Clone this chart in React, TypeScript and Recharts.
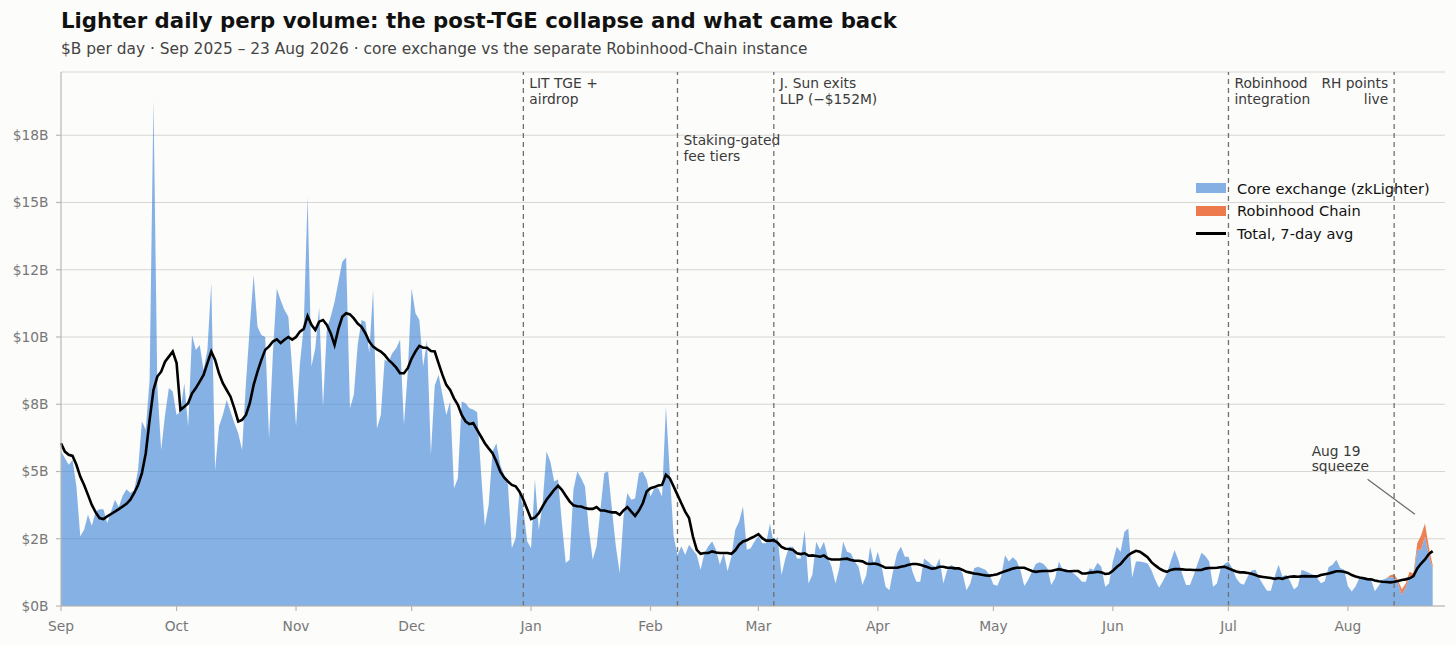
import React from 'react';
import {
  ComposedChart,
  Area,
  Line,
  XAxis,
  YAxis,
  CartesianGrid,
  ReferenceLine,
  ReferenceDot,
  Legend,
} from 'recharts';

// ---------- DATA ----------
const monthTickDays = [0, 30, 61, 91, 122, 153, 181, 212, 242, 273, 303, 334];
const monthTickLabels = ['Sep', 'Oct', 'Nov', 'Dec', 'Jan', 'Feb', 'Mar', 'Apr', 'May', 'Jun', 'Jul', 'Aug'];
const yTickValues = [0, 2.5, 5, 7.5, 10, 12.5, 15, 17.5];
const yTickLabels = ['$0B', '$2B', '$5B', '$8B', '$10B', '$12B', '$15B', '$18B'];

// Core exchange (zkLighter), $B per day, day 0 = 1 Sep 2025 ... day 356 = 23 Aug 2026
const coreVolume = [
  5.74, 5.5, 5.25, 5.43, 4.44, 2.59, 2.83, 3.39, 2.98, 3.51,
  3.6, 3.6, 3.08, 3.51, 3.95, 3.68, 4.1, 4.34, 4.2, 4.3,
  5.06, 6.86, 6.55, 8.4, 18.8, 8.16, 5.8, 7.1, 8.1, 7.97,
  7.1, 7.23, 8.28, 6.67, 10.07, 9.52, 9.7, 8.77, 9.52, 12.0,
  5.06, 6.67, 7.1, 7.66, 7.23, 6.8, 6.42, 5.8, 8.28, 10.38,
  12.3, 10.38, 10.07, 10.0, 6.24, 9.4, 11.8, 11.37, 11.0, 10.75,
  8.8, 6.67, 9.0, 10.4, 15.2, 8.9, 9.58, 11.1, 7.4, 10.3,
  10.75, 11.3, 12.05, 12.8, 12.95, 7.35, 7.85, 9.7, 10.63, 10.57,
  9.4, 11.75, 6.6, 7.1, 9.15, 9.08, 9.4, 9.58, 9.9, 6.73,
  8.7, 11.8, 10.88, 10.63, 8.9, 9.9, 5.62, 8.2, 8.6, 7.85,
  7.1, 7.6, 4.38, 4.75, 7.6, 7.54, 7.35, 7.3, 7.2, 5.0,
  2.96, 3.76, 5.74, 6.05, 5.25, 4.88, 4.5, 2.15, 2.52, 4.3,
  3.6, 2.4, 2.15, 4.7, 2.83, 3.8, 5.74, 5.37, 4.63, 4.7,
  3.08, 1.6, 1.72, 4.32, 5.0, 4.75, 4.44, 2.83, 1.72, 2.22,
  3.58, 4.94, 5.0, 3.58, 2.22, 1.23, 3.33, 4.2, 3.95, 4.0,
  4.94, 5.0, 4.7, 4.07, 4.38, 4.38, 4.07, 7.41, 4.94, 2.59,
  1.9, 2.22, 1.9, 2.28, 2.09, 1.9, 1.35, 1.97, 2.22, 2.4,
  2.09, 1.53, 1.97, 1.29, 1.84, 2.83, 3.14, 3.7, 2.09, 2.15,
  2.4, 2.6, 2.33, 2.33, 3.07, 2.33, 2.57, 1.15, 1.77, 2.2,
  2.2, 1.77, 1.77, 2.82, 0.84, 1.15, 2.39, 2.08, 2.39, 1.83,
  1.46, 0.84, 1.4, 2.39, 2.02, 1.96, 1.65, 1.46, 0.78, 1.15,
  2.2, 1.52, 2.02, 1.46, 0.72, 0.59, 1.34, 1.96, 2.2, 1.83,
  1.83, 1.27, 0.9, 0.9, 1.77, 1.65, 1.52, 1.46, 1.77, 0.84,
  1.34, 1.52, 1.46, 1.4, 1.21, 0.59, 0.84, 1.4, 1.46, 1.4,
  1.34, 1.15, 0.8, 0.75, 1.09, 1.89, 1.65, 1.81, 1.68, 1.34,
  0.74, 0.97, 1.27, 1.56, 1.63, 1.56, 1.4, 0.78, 1.03, 1.65,
  1.34, 1.37, 1.3, 1.19, 1.06, 0.9, 0.9, 1.4, 1.34, 1.61,
  1.46, 0.72, 0.84, 1.65, 2.2, 2.02, 2.76, 2.88, 1.06, 1.65,
  1.65, 1.63, 1.58, 1.34, 0.97, 0.68, 0.93, 1.21, 1.65, 2.08,
  1.71, 1.19, 0.78, 0.78, 1.15, 1.58, 1.98, 1.86, 1.65, 0.72,
  0.84, 1.4, 1.56, 1.65, 1.4, 1.04, 0.85, 0.79, 1.1, 1.32,
  1.35, 1.04, 0.79, 0.57, 0.57, 1.1, 1.53, 1.1, 1.16, 0.92,
  0.61, 0.73, 1.35, 1.29, 1.23, 1.16, 1.04, 0.85, 0.92, 1.45,
  1.53, 1.72, 1.41, 1.35, 0.73, 0.54, 0.73, 1.04, 1.1, 1.04,
  0.98, 0.55, 0.75, 0.98, 1.03, 1.08, 1.06, 0.84, 0.41, 0.69,
  1.11, 1.09, 2.08, 2.1, 2.57, 1.89, 1.4,
];

// Robinhood Chain instance: zero before it launched, then these daily values
const robinhoodStartDay = 345;
const robinhoodVolume = [0.06, 0.12, 0.12, 0.21, 0.15, 0.16, 0.12, 0.25, 0.53, 0.5, 0.31, 0.12];

// Total, 7-day average
const totalAvg7 = [
  6.05, 5.74, 5.62, 5.58, 5.25, 4.81, 4.5, 4.13, 3.76, 3.48,
  3.27, 3.23, 3.33, 3.42, 3.51, 3.6, 3.7, 3.8, 3.95, 4.2,
  4.5, 4.94, 5.68, 6.92, 8.03, 8.53, 8.71, 9.08, 9.27, 9.46,
  9.03, 7.29, 7.41, 7.54, 7.9, 8.1, 8.34, 8.59, 9.03, 9.46,
  9.15, 8.65, 8.28, 8.03, 7.78, 7.35, 6.86, 6.92, 7.1, 7.54,
  8.22, 8.71, 9.15, 9.52, 9.65, 9.83, 9.91, 9.78, 9.9, 10.0,
  9.9, 10.0, 10.2, 10.3, 10.78, 10.45, 10.26, 10.57, 10.63, 10.45,
  10.14, 9.7, 10.3, 10.75, 10.88, 10.84, 10.69, 10.5, 10.38, 10.14,
  9.83, 9.64, 9.54, 9.46, 9.33, 9.15, 9.02, 8.86, 8.65, 8.65,
  8.84, 9.2, 9.46, 9.67, 9.6, 9.6, 9.48, 9.46, 9.02, 8.59,
  8.22, 8.03, 7.72, 7.48, 7.1, 6.86, 6.76, 6.8, 6.55, 6.3,
  6.05, 5.86, 5.68, 5.37, 5.0, 4.78, 4.63, 4.5, 4.45, 4.25,
  3.95, 3.6, 3.23, 3.29, 3.45, 3.7, 3.95, 4.13, 4.32, 4.47,
  4.32, 4.1, 3.89, 3.74, 3.71, 3.7, 3.64, 3.61, 3.61, 3.68,
  3.55, 3.55, 3.51, 3.48, 3.48, 3.39, 3.55, 3.68, 3.51, 3.35,
  3.55, 3.82, 4.26, 4.38, 4.42, 4.48, 4.5, 4.88, 4.75, 4.44,
  4.13, 3.82, 3.51, 3.27, 2.59, 2.09, 1.94, 1.97, 1.97, 2.03,
  1.99, 1.97, 1.97, 1.97, 1.94, 2.07, 2.28, 2.4, 2.44, 2.52,
  2.59, 2.67, 2.52, 2.43, 2.43, 2.45, 2.35, 2.2, 2.13, 2.12,
  2.08, 1.96, 1.93, 1.96, 1.87, 1.88, 1.86, 1.83, 1.88, 1.77,
  1.73, 1.73, 1.73, 1.75, 1.76, 1.71, 1.68, 1.68, 1.66, 1.58,
  1.56, 1.58, 1.55, 1.49, 1.42, 1.42, 1.42, 1.42, 1.46, 1.49,
  1.53, 1.56, 1.56, 1.53, 1.49, 1.44, 1.39, 1.4, 1.46, 1.46,
  1.42, 1.42, 1.4, 1.4, 1.34, 1.27, 1.24, 1.21, 1.19, 1.16,
  1.14, 1.13, 1.15, 1.18, 1.24, 1.29, 1.34, 1.39, 1.42, 1.42,
  1.42, 1.36, 1.3, 1.27, 1.29, 1.3, 1.3, 1.3, 1.34, 1.37,
  1.34, 1.3, 1.29, 1.3, 1.3, 1.21, 1.21, 1.24, 1.25, 1.27,
  1.25, 1.19, 1.21, 1.31, 1.45, 1.56, 1.73, 1.89, 1.98, 2.05,
  2.02, 1.92, 1.81, 1.63, 1.51, 1.4, 1.32, 1.27, 1.34, 1.37,
  1.37, 1.36, 1.35, 1.35, 1.34, 1.34, 1.34, 1.39, 1.41, 1.41,
  1.42, 1.44, 1.46, 1.4, 1.34, 1.28, 1.25, 1.25, 1.23, 1.2,
  1.15, 1.1, 1.08, 1.06, 1.04, 1.01, 1.04, 1.01, 1.06, 1.09,
  1.1, 1.09, 1.1, 1.11, 1.1, 1.1, 1.1, 1.15, 1.18, 1.21,
  1.25, 1.29, 1.29, 1.27, 1.23, 1.15, 1.1, 1.06, 1.03, 1.0,
  0.99, 0.95, 0.92, 0.9, 0.89, 0.88, 0.9, 0.93, 0.97, 0.99,
  1.03, 1.11, 1.4, 1.58, 1.73, 1.93, 2.04,
];

// Event markers (day index) and their captions
const eventDays = [120, 160, 185, 303, 346];
const eventTexts = [
  ['LIT TGE +', 'airdrop'],
  ['Staking-gated', 'fee tiers'],
  ['J. Sun exits', 'LLP (\u2212$152M)'],
  ['Robinhood', 'integration'],
  ['RH points', 'live'],
];

// Squeeze call-out: text anchor and pointer segment in data units
const squeezeText = ['Aug 19', 'squeeze'];
const squeezeTextAt = { day: 324.6, value: 5.57 };
const squeezePointer = [
  { day: 339.1, value: 4.71 },
  { day: 351.4, value: 3.41 },
];

// ---------- STYLE ----------
const FONT = '"DejaVu Sans", Verdana, sans-serif';
const BG = '#fcfcfa';
const CORE_FILL = '#3b82d6';
const CORE_OPACITY = 0.62;
const CORE_SOLID = '#84b0e4';
const RH_FILL = '#ec7a4d';
const AXIS_COLOR = '#bbb8b0';
const TICK_COLOR = '#777777';
const GRID_COLOR = '#d8d6d0';
const EVENT_COLOR = '#707070';
const NOTE_SIZE = 13.8;
const TICK_SIZE = 13.8;

// label placement per event: text side and vertical slot
const eventPlacement = [
  { side: 'start', slot: 0 },
  { side: 'start', slot: 1 },
  { side: 'start', slot: 0 },
  { side: 'start', slot: 0 },
  { side: 'end', slot: 0 },
];

const data = coreVolume.map((v, i) => ({
  day: i,
  core: v,
  rh: i >= robinhoodStartDay ? robinhoodVolume[i - robinhoodStartDay] ?? 0 : 0,
  avg: totalAvg7[i],
}));

const makeEventLabel = (lines: string[], side: string, slot: number) => (props: any) => {
  const vb = props && props.viewBox ? props.viewBox : { x: 0, y: 72, height: 0 };
  const top = vb.height < 0 ? vb.y + vb.height : vb.y;
  const isEnd = side === 'end';
  const tx = isEnd ? vb.x - 6 : vb.x + 6;
  const y0 = top + (slot === 0 ? 15.5 : 73);
  return (
    <text
      x={tx}
      y={y0}
      textAnchor={isEnd ? 'end' : 'start'}
      fontSize={NOTE_SIZE}
      fill="#3a3a3a"
      fontFamily={FONT}
    >
      {lines.map((l, i) => (
        <tspan key={i} x={tx} dy={i === 0 ? 0 : 16}>
          {l}
        </tspan>
      ))}
    </text>
  );
};

const squeezeLabel = (props: any) => {
  const vb = props && props.viewBox ? props.viewBox : { x: 0, y: 0 };
  const w = vb.width || 0;
  const h = vb.height || 0;
  const x = vb.x + w / 2;
  const y = vb.y + h / 2;
  return (
    <text x={x} y={y} fontSize={NOTE_SIZE} fill="#3a3a3a" fontFamily={FONT}>
      {squeezeText.map((l, i) => (
        <tspan key={i} x={x} dy={i === 0 ? 0 : 15}>
          {l}
        </tspan>
      ))}
    </text>
  );
};

const legendItems = [
  { label: 'Core exchange (zkLighter)', kind: 'patch', color: CORE_SOLID },
  { label: 'Robinhood Chain', kind: 'patch', color: RH_FILL },
  { label: 'Total, 7-day avg', kind: 'line', color: '#000000' },
];

const renderLegend = () => (
  <div style={{ fontFamily: FONT, fontSize: 14.6, color: '#111' }}>
    {legendItems.map((it) => (
      <div key={it.label} style={{ display: 'flex', alignItems: 'center', height: 22.5 }}>
        <div style={{ width: 30, height: 10, display: 'flex', alignItems: 'center', marginRight: 11 }}>
          {it.kind === 'patch' ? (
            <div style={{ width: 30, height: 10, background: it.color }} />
          ) : (
            <div style={{ width: 30, height: 3, background: it.color }} />
          )}
        </div>
        <span style={{ whiteSpace: 'nowrap' }}>{it.label}</span>
      </div>
    ))}
  </div>
);

export default function App() {
  return (
    <div
      style={{
        position: 'absolute',
        left: 0,
        top: 0,
        width: 1456,
        height: 645,
        background: BG,
        fontFamily: FONT,
        overflow: 'hidden',
      }}
    >
      <svg width={1456} height={64} style={{ position: 'absolute', left: 0, top: 0 }}>
        <text x={61} y={27.5} fontSize={21.25} fontWeight="bold" fill="#111" fontFamily={FONT}>
          Lighter daily perp volume: the post-TGE collapse and what came back
        </text>
        <text x={61} y={54} fontSize={15.4} fill="#444" fontFamily={FONT}>
          $B per day · Sep 2025 – 23 Aug 2026 · core exchange vs the separate Robinhood-Chain instance
        </text>
      </svg>
      <div style={{ position: 'absolute', left: 0, top: 0 }}>
        <ComposedChart
          width={1456}
          height={645}
          data={data}
          margin={{ top: 72, right: 11, bottom: 9, left: 0 }}
        >
          <CartesianGrid vertical={false} stroke={GRID_COLOR} strokeWidth={1} />
          <XAxis
            dataKey="day"
            type="number"
            domain={[0, 359.2]}
            ticks={monthTickDays}
            tickFormatter={(v: number) => monthTickLabels[monthTickDays.indexOf(v)] ?? ''}
            interval={0}
            height={30}
            tickSize={5}
            tickMargin={10}
            axisLine={{ stroke: AXIS_COLOR, strokeWidth: 1.2 }}
            tickLine={{ stroke: AXIS_COLOR, strokeWidth: 1.2 }}
            tick={{ fill: TICK_COLOR, fontSize: TICK_SIZE, fontFamily: FONT }}
            allowDecimals
          />
          <YAxis
            type="number"
            domain={[0, 19.85]}
            ticks={yTickValues}
            tickFormatter={(v: number) => yTickLabels[yTickValues.indexOf(v)] ?? ''}
            interval={0}
            width={61}
            tickSize={5}
            tickMargin={7.5}
            axisLine={{ stroke: AXIS_COLOR, strokeWidth: 1.2 }}
            tickLine={{ stroke: AXIS_COLOR, strokeWidth: 1.2 }}
            tick={{ fill: TICK_COLOR, fontSize: TICK_SIZE, fontFamily: FONT }}
            allowDataOverflow
          />
          <Area
            type="linear"
            dataKey="core"
            stackId="vol"
            fill={CORE_FILL}
            fillOpacity={CORE_OPACITY}
            stroke="none"
            isAnimationActive={false}
            dot={false}
            activeDot={false}
          />
          <Area
            type="linear"
            dataKey="rh"
            stackId="vol"
            fill={RH_FILL}
            fillOpacity={0.95}
            stroke="none"
            isAnimationActive={false}
            dot={false}
            activeDot={false}
          />
          {eventDays.map((d, i) => (
            <ReferenceLine
              key={d}
              x={d}
              stroke={EVENT_COLOR}
              strokeWidth={1.3}
              strokeDasharray="5 4"
              label={makeEventLabel(eventTexts[i], eventPlacement[i].side, eventPlacement[i].slot)}
            />
          ))}
          <ReferenceLine
            segment={[
              { x: squeezePointer[0].day, y: squeezePointer[0].value },
              { x: squeezePointer[1].day, y: squeezePointer[1].value },
            ]}
            stroke="#6a6a6a"
            strokeWidth={1.2}
          />
          <ReferenceDot
            x={squeezeTextAt.day}
            y={squeezeTextAt.value}
            r={0}
            fill="none"
            stroke="none"
            label={squeezeLabel}
          />
          <Line
            type="linear"
            dataKey="avg"
            stroke="#000000"
            strokeWidth={2.6}
            dot={false}
            activeDot={false}
            isAnimationActive={false}
          />
          <Legend
            layout="vertical"
            align="center"
            verticalAlign="middle"
            content={renderLegend}
            wrapperStyle={{ position: 'absolute', left: 1196, top: 177, width: 260, height: 70 }}
          />
        </ComposedChart>
      </div>
    </div>
  );
}
